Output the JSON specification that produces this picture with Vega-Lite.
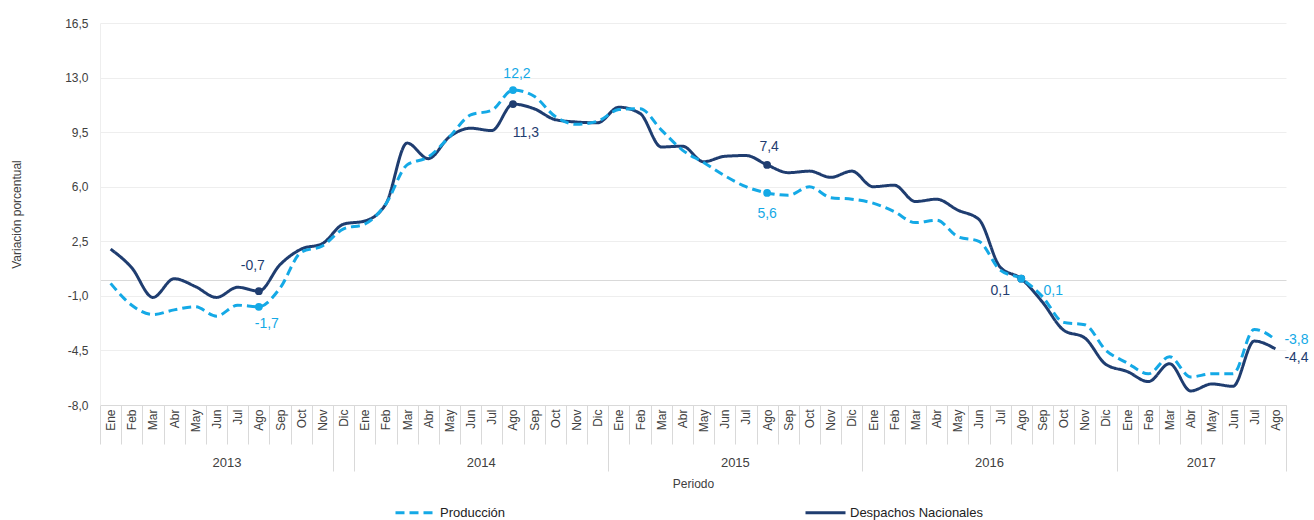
{
  "$schema": "https://vega.github.io/schema/vega-lite/v6.json",
  "width": 1186,
  "height": 382,
  "autosize": "none",
  "padding": {"left": 100, "top": 23, "right": 28, "bottom": 115},
  "config": {
    "font": "Liberation Sans",
    "view": {"stroke": null},
    "axis": {"labelFont": "Liberation Sans", "titleFont": "Liberation Sans", "labelColor": "#404040", "titleColor": "#404040", "titleFontWeight": "normal", "labelFontSize": 12, "titleFontSize": 12}
  },
  "data": {"values": [
    {"k":"2013-01","s":"Despachos Nacionales","v":2.0},{"k":"2013-02","s":"Despachos Nacionales","v":0.8},{"k":"2013-03","s":"Despachos Nacionales","v":-1.1},{"k":"2013-04","s":"Despachos Nacionales","v":0.1},{"k":"2013-05","s":"Despachos Nacionales","v":-0.4},{"k":"2013-06","s":"Despachos Nacionales","v":-1.1},{"k":"2013-07","s":"Despachos Nacionales","v":-0.45},{"k":"2013-08","s":"Despachos Nacionales","v":-0.7},{"k":"2013-09","s":"Despachos Nacionales","v":1.0},{"k":"2013-10","s":"Despachos Nacionales","v":2.0},{"k":"2013-11","s":"Despachos Nacionales","v":2.35},{"k":"2013-12","s":"Despachos Nacionales","v":3.6},
    {"k":"2014-01","s":"Despachos Nacionales","v":3.8},{"k":"2014-02","s":"Despachos Nacionales","v":4.9},{"k":"2014-03","s":"Despachos Nacionales","v":8.8},{"k":"2014-04","s":"Despachos Nacionales","v":7.8},{"k":"2014-05","s":"Despachos Nacionales","v":9.2},{"k":"2014-06","s":"Despachos Nacionales","v":9.75},{"k":"2014-07","s":"Despachos Nacionales","v":9.6},{"k":"2014-08","s":"Despachos Nacionales","v":11.3},{"k":"2014-09","s":"Despachos Nacionales","v":11.0},{"k":"2014-10","s":"Despachos Nacionales","v":10.3},{"k":"2014-11","s":"Despachos Nacionales","v":10.15},{"k":"2014-12","s":"Despachos Nacionales","v":10.1},
    {"k":"2015-01","s":"Despachos Nacionales","v":11.1},{"k":"2015-02","s":"Despachos Nacionales","v":10.7},{"k":"2015-03","s":"Despachos Nacionales","v":8.55},{"k":"2015-04","s":"Despachos Nacionales","v":8.6},{"k":"2015-05","s":"Despachos Nacionales","v":7.6},{"k":"2015-06","s":"Despachos Nacionales","v":7.95},{"k":"2015-07","s":"Despachos Nacionales","v":8.0},{"k":"2015-08","s":"Despachos Nacionales","v":7.4},{"k":"2015-09","s":"Despachos Nacionales","v":6.9},{"k":"2015-10","s":"Despachos Nacionales","v":7.0},{"k":"2015-11","s":"Despachos Nacionales","v":6.6},{"k":"2015-12","s":"Despachos Nacionales","v":7.0},
    {"k":"2016-01","s":"Despachos Nacionales","v":6.0},{"k":"2016-02","s":"Despachos Nacionales","v":6.1},{"k":"2016-03","s":"Despachos Nacionales","v":5.05},{"k":"2016-04","s":"Despachos Nacionales","v":5.2},{"k":"2016-05","s":"Despachos Nacionales","v":4.5},{"k":"2016-06","s":"Despachos Nacionales","v":3.9},{"k":"2016-07","s":"Despachos Nacionales","v":0.85},{"k":"2016-08","s":"Despachos Nacionales","v":0.1},{"k":"2016-09","s":"Despachos Nacionales","v":-1.4},{"k":"2016-10","s":"Despachos Nacionales","v":-3.2},{"k":"2016-11","s":"Despachos Nacionales","v":-3.7},{"k":"2016-12","s":"Despachos Nacionales","v":-5.4},
    {"k":"2017-01","s":"Despachos Nacionales","v":-5.85},{"k":"2017-02","s":"Despachos Nacionales","v":-6.5},{"k":"2017-03","s":"Despachos Nacionales","v":-5.35},{"k":"2017-04","s":"Despachos Nacionales","v":-7.1},{"k":"2017-05","s":"Despachos Nacionales","v":-6.65},{"k":"2017-06","s":"Despachos Nacionales","v":-6.8},{"k":"2017-07","s":"Despachos Nacionales","v":-3.9},{"k":"2017-08","s":"Despachos Nacionales","v":-4.4},
    {"k":"2013-01","s":"Producción","v":-0.2},{"k":"2013-02","s":"Producción","v":-1.6},{"k":"2013-03","s":"Producción","v":-2.2},{"k":"2013-04","s":"Producción","v":-1.9},{"k":"2013-05","s":"Producción","v":-1.7},{"k":"2013-06","s":"Producción","v":-2.3},{"k":"2013-07","s":"Producción","v":-1.6},{"k":"2013-08","s":"Producción","v":-1.7},{"k":"2013-09","s":"Producción","v":-0.5},{"k":"2013-10","s":"Producción","v":1.8},{"k":"2013-11","s":"Producción","v":2.2},{"k":"2013-12","s":"Producción","v":3.3},
    {"k":"2014-01","s":"Producción","v":3.6},{"k":"2014-02","s":"Producción","v":4.9},{"k":"2014-03","s":"Producción","v":7.4},{"k":"2014-04","s":"Producción","v":7.9},{"k":"2014-05","s":"Producción","v":9.2},{"k":"2014-06","s":"Producción","v":10.6},{"k":"2014-07","s":"Producción","v":10.9},{"k":"2014-08","s":"Producción","v":12.2},{"k":"2014-09","s":"Producción","v":11.8},{"k":"2014-10","s":"Producción","v":10.5},{"k":"2014-11","s":"Producción","v":10.0},{"k":"2014-12","s":"Producción","v":10.2},
    {"k":"2015-01","s":"Producción","v":10.95},{"k":"2015-02","s":"Producción","v":11.0},{"k":"2015-03","s":"Producción","v":9.65},{"k":"2015-04","s":"Producción","v":8.35},{"k":"2015-05","s":"Producción","v":7.55},{"k":"2015-06","s":"Producción","v":6.7},{"k":"2015-07","s":"Producción","v":6.0},{"k":"2015-08","s":"Producción","v":5.6},{"k":"2015-09","s":"Producción","v":5.45},{"k":"2015-10","s":"Producción","v":6.0},{"k":"2015-11","s":"Producción","v":5.3},{"k":"2015-12","s":"Producción","v":5.2},
    {"k":"2016-01","s":"Producción","v":4.95},{"k":"2016-02","s":"Producción","v":4.4},{"k":"2016-03","s":"Producción","v":3.7},{"k":"2016-04","s":"Producción","v":3.85},{"k":"2016-05","s":"Producción","v":2.8},{"k":"2016-06","s":"Producción","v":2.5},{"k":"2016-07","s":"Producción","v":0.65},{"k":"2016-08","s":"Producción","v":0.1},{"k":"2016-09","s":"Producción","v":-1.05},{"k":"2016-10","s":"Producción","v":-2.7},{"k":"2016-11","s":"Producción","v":-2.85},{"k":"2016-12","s":"Producción","v":-4.5},
    {"k":"2017-01","s":"Producción","v":-5.3},{"k":"2017-02","s":"Producción","v":-6.0},{"k":"2017-03","s":"Producción","v":-4.9},{"k":"2017-04","s":"Producción","v":-6.2},{"k":"2017-05","s":"Producción","v":-6.0},{"k":"2017-06","s":"Producción","v":-6.0},{"k":"2017-07","s":"Producción","v":-3.15},{"k":"2017-08","s":"Producción","v":-3.8}
  ]},
  "transform": [{"calculate": "(datum.v < 0 ? '-' : '') + replace(format(abs(datum.v), '.1f'), '.', ',')", "as": "lbl"}],
  "layer": [
    {
      "mark": {"type": "line", "interpolate": "monotone", "strokeWidth": 3, "strokeCap": "butt"},
      "encoding": {
        "x": {"field": "k", "type": "ordinal", "scale": {"type": "band", "paddingInner": 0, "paddingOuter": 0},
          "axis": {"orient": "bottom", "title": null, "labelAngle": 270, "labelPadding": -35, "labelOverlap": false,
            "labelExpr": "['Ene','Feb','Mar','Abr','May','Jun','Jul','Ago','Sep','Oct','Nov','Dic'][toNumber(substring(datum.value,5,7))-1]",
            "tickBand": "extent", "tickColor": "#D9D9D9", "domainColor": "#D9D9D9", "tickSize": 39}},
        "y": {"field": "v", "type": "quantitative", "scale": {"domain": [-8, 16.5], "nice": false, "zero": false},
          "axis": {"title": "Variación porcentual", "values": [-8, -4.5, -1, 0, 2.5, 6, 9.5, 13, 16.5], "ticks": false,
            "labelExpr": "datum.value == 0 ? '' : (datum.value < 0 ? '-' : '') + replace(format(abs(datum.value), '.1f'), '.', ',')",
            "gridColor": {"condition": {"test": "datum.value == 0", "value": "#D9D9D9"}, "value": "#EEEEEE"},
            "labelPadding": 12, "titlePadding": 41, "domainColor": "#EEEEEE"}},
        "color": {"field": "s", "type": "nominal", "scale": {"domain": ["Producción", "Despachos Nacionales"], "range": ["#14A9E6", "#1F3D70"]},
          "legend": {"title": null, "orient": "none", "legendX": 294, "legendY": 468, "direction": "horizontal", "symbolType": "stroke", "symbolSize": 1600, "symbolStrokeWidth": 3,
            "labelFontSize": 13, "labelColor": "#222222", "columnPadding": 293, "labelOffset": 3}},
        "strokeDash": {"field": "s", "type": "nominal", "scale": {"domain": ["Producción", "Despachos Nacionales"], "range": [[9, 5], [1, 0]]},
          "legend": {"title": null, "orient": "none", "legendX": 294, "legendY": 468, "direction": "horizontal", "symbolType": "stroke", "symbolSize": 1600, "symbolStrokeWidth": 3,
            "labelFontSize": 13, "labelColor": "#222222", "columnPadding": 293, "labelOffset": 3}}
      }
    },
    {
      "transform": [{"filter": "substring(datum.k,5,7)=='08' && datum.k!='2017-08'"}],
      "mark": {"type": "point", "filled": true, "opacity": 1, "size": 60},
      "encoding": {
        "x": {"field": "k", "type": "ordinal", "axis": null},
        "y": {"field": "v", "type": "quantitative"},
        "color": {"field": "s", "type": "nominal"}
      }
    },
    {"transform": [{"filter": "datum.k=='2013-08' && datum.s=='Despachos Nacionales'"}], "mark": {"type": "text", "fontSize": 14, "color": "#1F3D70", "dx": -6, "dy": -25},
      "encoding": {"x": {"field": "k", "type": "ordinal", "axis": null}, "y": {"field": "v", "type": "quantitative"}, "text": {"field": "lbl", "type": "nominal"}}},
    {"transform": [{"filter": "datum.k=='2013-08' && datum.s=='Producción'"}], "mark": {"type": "text", "fontSize": 14, "color": "#14A9E6", "dx": 8, "dy": 17},
      "encoding": {"x": {"field": "k", "type": "ordinal", "axis": null}, "y": {"field": "v", "type": "quantitative"}, "text": {"field": "lbl", "type": "nominal"}}},
    {"transform": [{"filter": "datum.k=='2014-08' && datum.s=='Producción'"}], "mark": {"type": "text", "fontSize": 14, "color": "#14A9E6", "dx": 4, "dy": -16},
      "encoding": {"x": {"field": "k", "type": "ordinal", "axis": null}, "y": {"field": "v", "type": "quantitative"}, "text": {"field": "lbl", "type": "nominal"}}},
    {"transform": [{"filter": "datum.k=='2014-08' && datum.s=='Despachos Nacionales'"}], "mark": {"type": "text", "fontSize": 14, "color": "#1F3D70", "dx": 13, "dy": 29},
      "encoding": {"x": {"field": "k", "type": "ordinal", "axis": null}, "y": {"field": "v", "type": "quantitative"}, "text": {"field": "lbl", "type": "nominal"}}},
    {"transform": [{"filter": "datum.k=='2015-08' && datum.s=='Despachos Nacionales'"}], "mark": {"type": "text", "fontSize": 14, "color": "#1F3D70", "dx": 2, "dy": -18},
      "encoding": {"x": {"field": "k", "type": "ordinal", "axis": null}, "y": {"field": "v", "type": "quantitative"}, "text": {"field": "lbl", "type": "nominal"}}},
    {"transform": [{"filter": "datum.k=='2015-08' && datum.s=='Producción'"}], "mark": {"type": "text", "fontSize": 14, "color": "#14A9E6", "dx": 0, "dy": 21},
      "encoding": {"x": {"field": "k", "type": "ordinal", "axis": null}, "y": {"field": "v", "type": "quantitative"}, "text": {"field": "lbl", "type": "nominal"}}},
    {"transform": [{"filter": "datum.k=='2016-08' && datum.s=='Despachos Nacionales'"}], "mark": {"type": "text", "fontSize": 14, "color": "#1F3D70", "dx": -21, "dy": 12},
      "encoding": {"x": {"field": "k", "type": "ordinal", "axis": null}, "y": {"field": "v", "type": "quantitative"}, "text": {"field": "lbl", "type": "nominal"}}},
    {"transform": [{"filter": "datum.k=='2016-08' && datum.s=='Producción'"}], "mark": {"type": "text", "fontSize": 14, "color": "#14A9E6", "dx": 32, "dy": 12},
      "encoding": {"x": {"field": "k", "type": "ordinal", "axis": null}, "y": {"field": "v", "type": "quantitative"}, "text": {"field": "lbl", "type": "nominal"}}},
    {"transform": [{"filter": "datum.k=='2017-08' && datum.s=='Producción'"}], "mark": {"type": "text", "fontSize": 14, "color": "#14A9E6", "align": "left", "dx": 9, "dy": 0},
      "encoding": {"x": {"field": "k", "type": "ordinal", "axis": null}, "y": {"field": "v", "type": "quantitative"}, "text": {"field": "lbl", "type": "nominal"}}},
    {"transform": [{"filter": "datum.k=='2017-08' && datum.s=='Despachos Nacionales'"}], "mark": {"type": "text", "fontSize": 14, "color": "#1F3D70", "align": "left", "dx": 9, "dy": 9},
      "encoding": {"x": {"field": "k", "type": "ordinal", "axis": null}, "y": {"field": "v", "type": "quantitative"}, "text": {"field": "lbl", "type": "nominal"}}},
    {
      "mark": {"type": "point", "opacity": 0},
      "encoding": {
        "x": {"field": "k", "type": "ordinal",
          "axis": {"orient": "bottom", "title": "Periodo", "titlePadding": 9, "labelAngle": 0, "ticks": false, "domain": false, "labelPadding": 51, "labelOffset": -10.59,
            "labelOverlap": false, "labelFontSize": 13,
            "values": ["2013-07", "2014-07", "2015-07", "2016-07", "2017-05"],
            "labelExpr": "substring(datum.value,0,4)"}},
        "y": {"field": "v", "type": "quantitative"}
      }
    },
    {
      "mark": {"type": "point", "opacity": 0},
      "encoding": {
        "x": {"field": "k", "type": "ordinal",
          "axis": {"orient": "bottom", "title": null, "labels": false, "domain": false, "tickBand": "extent", "tickSize": 66, "tickColor": "#D9D9D9",
            "values": ["2013-12", "2014-12", "2015-12", "2016-12", "2017-08"]}},
        "y": {"field": "v", "type": "quantitative"}
      }
    }
  ],
  "resolve": {"axis": {"x": "independent"}}
}
